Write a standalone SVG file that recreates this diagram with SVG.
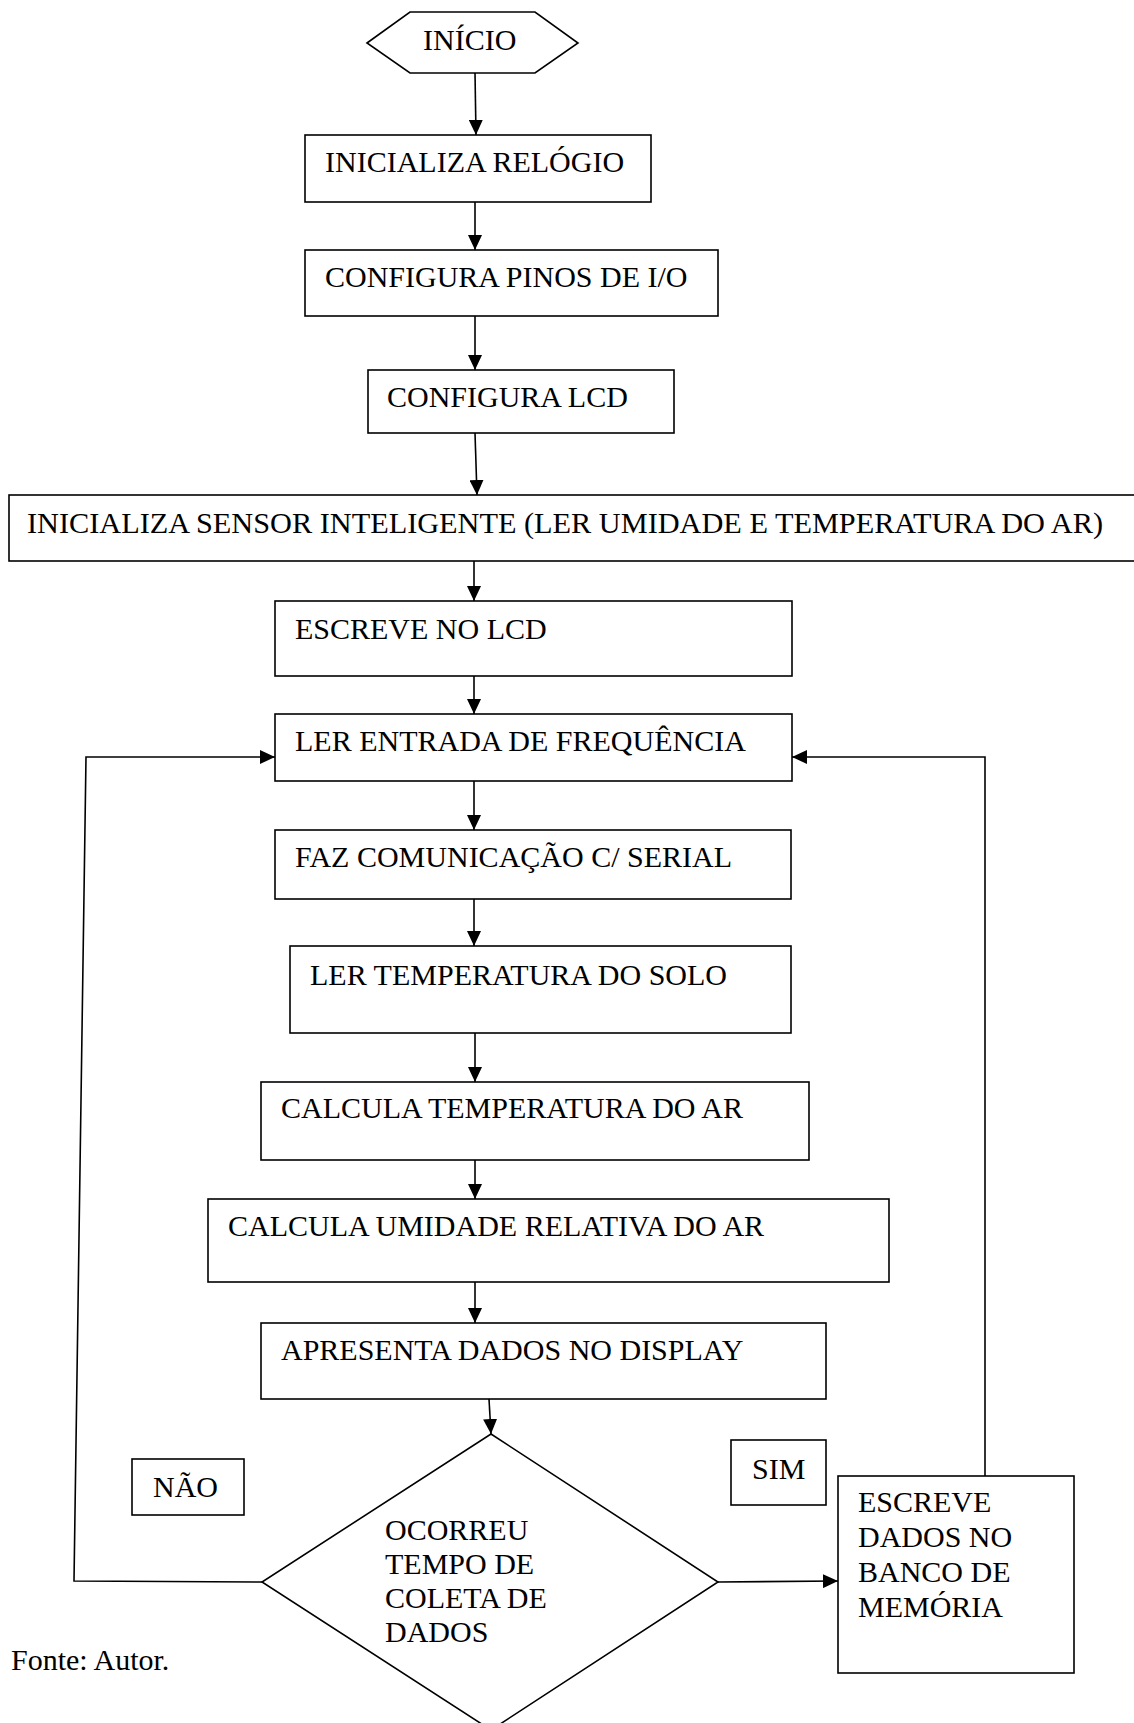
<svg xmlns="http://www.w3.org/2000/svg" width="1134" height="1723" viewBox="0 0 1134 1723">
  <defs>
    <marker id="arrow" viewBox="0 0 15 14" refX="15" refY="7" markerWidth="15" markerHeight="14" markerUnits="userSpaceOnUse" orient="auto">
      <path d="M0,0 L15,7 L0,14 z" fill="#000"/>
    </marker>
    <style>
      .box { fill: #fff; stroke: #000; stroke-width: 1.6; }
      .line { fill: none; stroke: #000; stroke-width: 1.6; }
      .lbl { font-family: "Liberation Serif", "Times New Roman", serif; font-size: 30px; fill: #000; }
    </style>
  </defs>
  <rect width="1134" height="1723" fill="#fff"/>

  <!-- connectors -->
  <g id="connectors" class="line">
    <line x1="475" y1="73" x2="476" y2="135" marker-end="url(#arrow)"/>
    <line x1="475" y1="202" x2="475" y2="250" marker-end="url(#arrow)"/>
    <line x1="475" y1="316" x2="475" y2="370" marker-end="url(#arrow)"/>
    <line x1="475" y1="433" x2="477" y2="495" marker-end="url(#arrow)"/>
    <line x1="474" y1="561" x2="474" y2="601" marker-end="url(#arrow)"/>
    <line x1="474" y1="676" x2="474" y2="714" marker-end="url(#arrow)"/>
    <line x1="474" y1="781" x2="474" y2="830" marker-end="url(#arrow)"/>
    <line x1="474" y1="899" x2="474" y2="946" marker-end="url(#arrow)"/>
    <line x1="475" y1="1033" x2="475" y2="1082" marker-end="url(#arrow)"/>
    <line x1="475" y1="1160" x2="475" y2="1199" marker-end="url(#arrow)"/>
    <line x1="475" y1="1282" x2="475" y2="1323" marker-end="url(#arrow)"/>
    <line x1="489" y1="1399" x2="491" y2="1434" marker-end="url(#arrow)"/>
    <line x1="718" y1="1582" x2="838" y2="1581" marker-end="url(#arrow)"/>
    <polyline points="262,1582 74,1581 86,757 275,757" marker-end="url(#arrow)"/>
    <polyline points="985,1476 985,757 792,757" marker-end="url(#arrow)"/>
  </g>

  <!-- start -->
  <g id="inicio">
    <polygon class="box" points="367,43 410,12 535,12 578,43 535,73 410,73"/>
    <text class="lbl" x="423" y="50">INÍCIO</text>
  </g>

  <g id="inicializa-relogio">
    <rect class="box" x="305" y="135" width="346" height="67"/>
    <text class="lbl" x="325" y="172">INICIALIZA RELÓGIO</text>
  </g>

  <g id="configura-pinos">
    <rect class="box" x="305" y="250" width="413" height="66"/>
    <text class="lbl" x="325" y="287">CONFIGURA PINOS DE I/O</text>
  </g>

  <g id="configura-lcd">
    <rect class="box" x="368" y="370" width="306" height="63"/>
    <text class="lbl" x="387" y="407">CONFIGURA LCD</text>
  </g>

  <g id="inicializa-sensor">
    <rect class="box" x="9" y="495" width="1135" height="66"/>
    <text class="lbl" x="27" y="533" textLength="1076" lengthAdjust="spacingAndGlyphs">INICIALIZA SENSOR INTELIGENTE (LER UMIDADE E TEMPERATURA DO AR)</text>
  </g>

  <g id="escreve-lcd">
    <rect class="box" x="275" y="601" width="517" height="75"/>
    <text class="lbl" x="295" y="639">ESCREVE NO LCD</text>
  </g>

  <g id="ler-frequencia">
    <rect class="box" x="275" y="714" width="517" height="67"/>
    <text class="lbl" x="295" y="751">LER ENTRADA DE FREQUÊNCIA</text>
  </g>

  <g id="comunicacao-serial">
    <rect class="box" x="275" y="830" width="516" height="69"/>
    <text class="lbl" x="295" y="867">FAZ COMUNICAÇÃO C/ SERIAL</text>
  </g>

  <g id="ler-temp-solo">
    <rect class="box" x="290" y="946" width="501" height="87"/>
    <text class="lbl" x="310" y="985">LER TEMPERATURA DO SOLO</text>
  </g>

  <g id="calcula-temp-ar">
    <rect class="box" x="261" y="1082" width="548" height="78"/>
    <text class="lbl" x="281" y="1118">CALCULA TEMPERATURA DO AR</text>
  </g>

  <g id="calcula-umidade">
    <rect class="box" x="208" y="1199" width="681" height="83"/>
    <text class="lbl" x="228" y="1236">CALCULA UMIDADE RELATIVA DO AR</text>
  </g>

  <g id="apresenta-display">
    <rect class="box" x="261" y="1323" width="565" height="76"/>
    <text class="lbl" x="281" y="1360">APRESENTA DADOS NO DISPLAY</text>
  </g>

  <!-- decision -->
  <g id="decisao">
    <polygon class="box" points="491,1434 718,1582 491,1730 262,1582"/>
    <text class="lbl" x="385" y="1540">OCORREU</text>
    <text class="lbl" x="385" y="1574">TEMPO DE</text>
    <text class="lbl" x="385" y="1608">COLETA DE</text>
    <text class="lbl" x="385" y="1642">DADOS</text>
  </g>

  <g id="label-nao">
    <rect class="box" x="132" y="1459" width="112" height="56"/>
    <text class="lbl" x="153" y="1497">NÃO</text>
  </g>

  <g id="label-sim">
    <rect class="box" x="731" y="1440" width="95" height="65"/>
    <text class="lbl" x="752" y="1479">SIM</text>
  </g>

  <g id="escreve-memoria">
    <rect class="box" x="838" y="1476" width="236" height="197"/>
    <text class="lbl" x="858" y="1512">ESCREVE</text>
    <text class="lbl" x="858" y="1547">DADOS NO</text>
    <text class="lbl" x="858" y="1582">BANCO DE</text>
    <text class="lbl" x="858" y="1617">MEMÓRIA</text>
  </g>

  <text id="fonte" class="lbl" x="11" y="1670">Fonte: Autor.</text>
</svg>
